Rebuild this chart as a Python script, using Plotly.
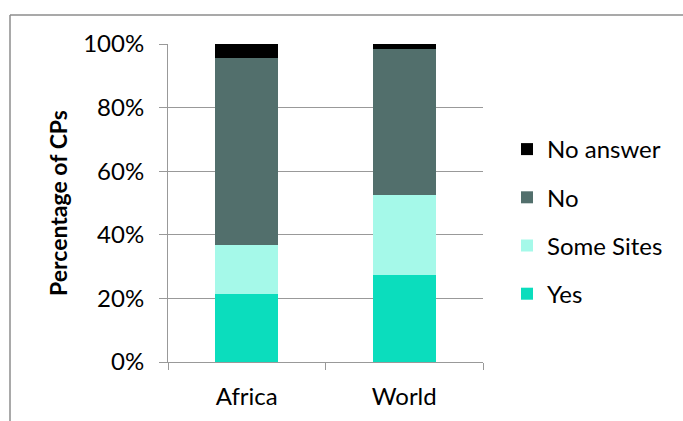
import plotly.graph_objects as go

W, H = 683, 421
ML, MR, MT, MB = 168, 200, 44, 59

categories = ["Africa", "World"]
yes = [21.5, 27.3]
some_sites = [15.3, 25.3]
no = [58.9, 45.9]
no_answer = [4.3, 1.5]

series = [
    ("Yes", yes, "#0BDDBD", 4),
    ("Some Sites", some_sites, "#A5F9E9", 3),
    ("No", no, "#526F6C", 2),
    ("No answer", no_answer, "#000000", 1),
]

FONT = "Lato"
FS = 24

fig = go.Figure()
for name, vals, col, rank in series:
    fig.add_trace(go.Bar(
        x=categories, y=vals, name=name, marker_color=col,
        marker_line_width=0, width=0.4, legendgroup=name,
        legendrank=rank,
    ))

pw = W - ML - MR
ph = H - MT - MB

def px_x(x):
    return (x - ML) / pw

def px_y(y):
    return (H - MB - y) / ph

fig.update_layout(
    width=W, height=H,
    margin=dict(l=ML, r=MR, t=MT, b=MB, pad=0),
    barmode="stack",
    paper_bgcolor="white", plot_bgcolor="white",
    font=dict(family=FONT, size=FS, color="#000000"),
    legend=dict(
        x=px_x(507), y=px_y(127), xanchor="left", yanchor="top",
        traceorder="grouped", tracegroupgap=14,
        font=dict(family=FONT, size=FS), itemwidth=30,
        bgcolor="rgba(0,0,0,0)",
    ),
    xaxis=dict(
        showline=True, linecolor="#999999", linewidth=1,
        ticks="outside", ticklen=7, tickcolor="#999999",
        tickson="boundaries", showgrid=False,
        ticklabelstandoff=13,
    ),
    yaxis=dict(
        range=[0, 100], tickvals=[0, 20, 40, 60, 80, 100],
        ticktext=["0%", "20%", "40%", "60%", "80%", "100%"],
        showline=True, linecolor="#999999", linewidth=1,
        ticks="outside", ticklen=8, tickcolor="#999999",
        showgrid=True, gridcolor="#999999", gridwidth=1,
        zeroline=False, ticklabelstandoff=10,
        title=dict(text="<b>Percentage of CPs</b>", standoff=9,
                   font=dict(family=FONT, size=23)),
    ),
    showlegend=True,
)

# outer chart frame (cropped)
fig.add_shape(type="line", xref="paper", yref="paper",
              x0=px_x(10), x1=px_x(W), y0=px_y(15), y1=px_y(15),
              line=dict(color="#8C8C8C", width=1.5))
fig.add_shape(type="line", xref="paper", yref="paper",
              x0=px_x(10), x1=px_x(10), y0=px_y(15), y1=px_y(H),
              line=dict(color="#8C8C8C", width=1.5))

fig.write_html("out.html")
